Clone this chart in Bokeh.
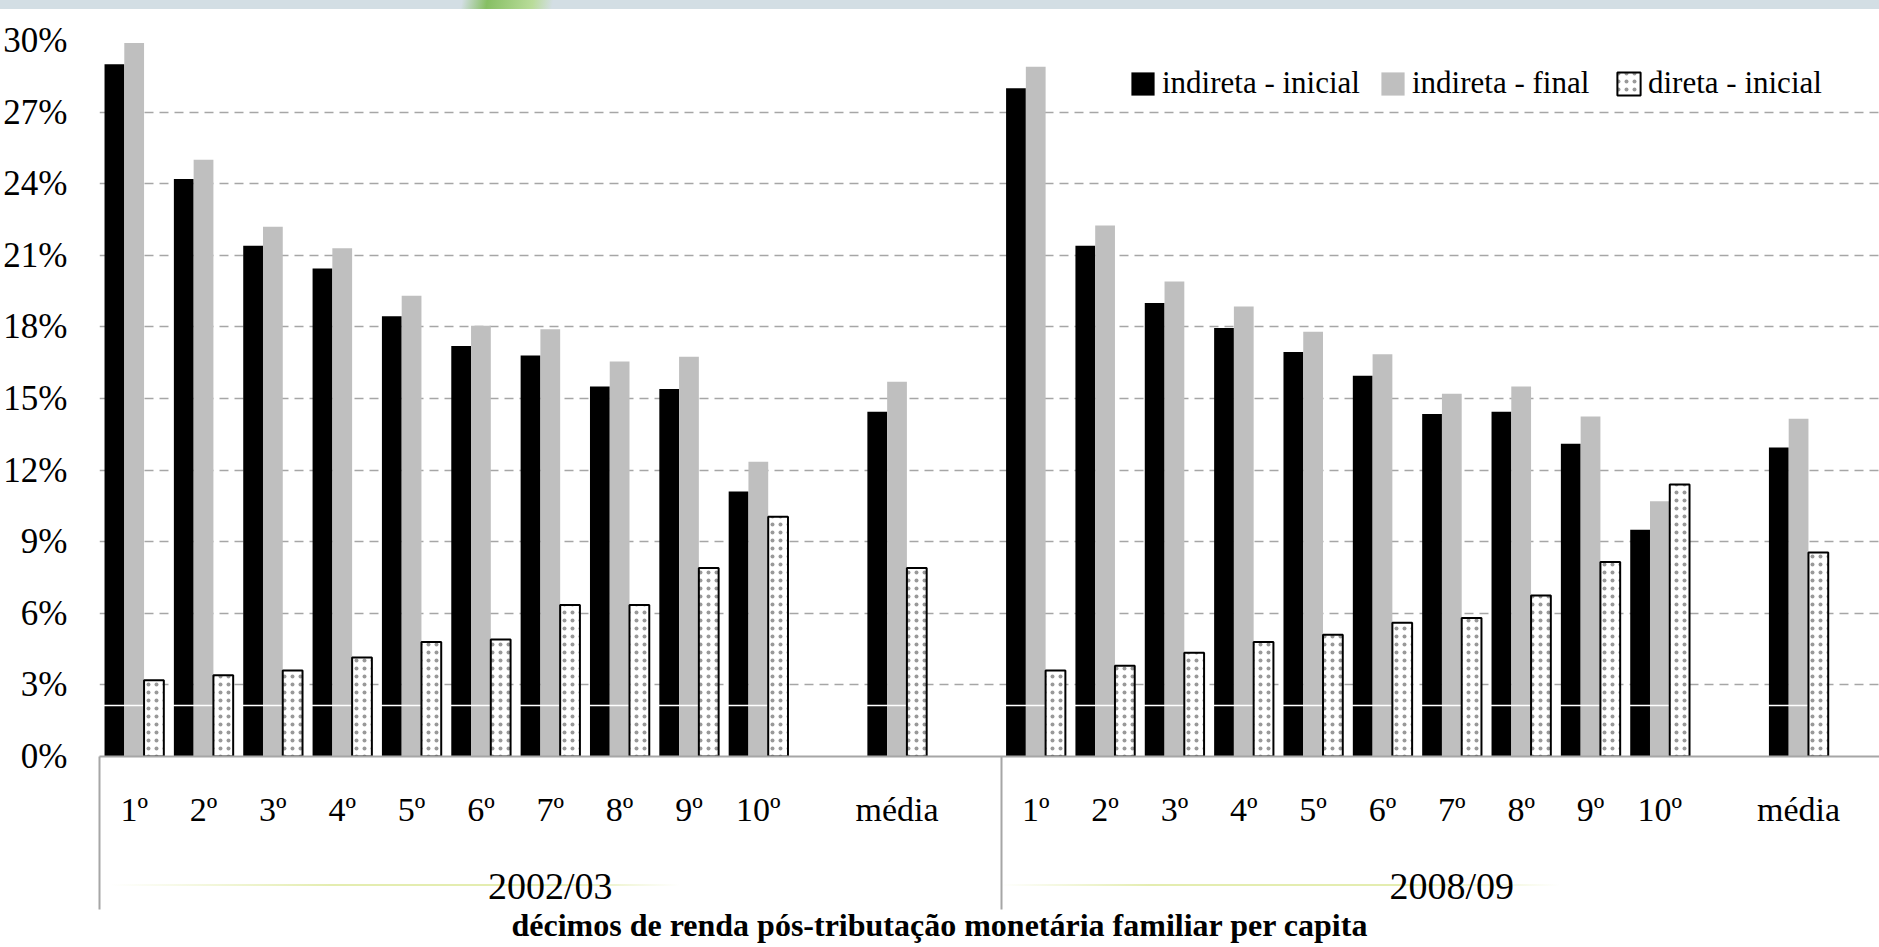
from bokeh.plotting import figure
from bokeh.models import (ColumnDataSource, Range1d, LinearAxis, FixedTicker,
                          PrintfTickFormatter, Legend, LegendItem)
from bokeh.transform import dodge
from bokeh.embed import file_html
from bokeh.resources import INLINE

# ---------------- data (percent) ----------------
periods = ["2002/03", "2008/09"]
categories = ["1º", "2º", "3º", "4º", "5º", "6º", "7º", "8º", "9º", "10º", "média"]
# slot of each category inside its period block (one empty slot before "média")
category_slots = [0, 1, 2, 3, 4, 5, 6, 7, 8, 9, 11]
slots_per_period = 13

indireta_inicial_0203 = [29.0, 24.2, 21.4, 20.45, 18.45, 17.2, 16.8, 15.5, 15.4, 11.1, 14.45]
indireta_final_0203 = [29.9, 25.0, 22.2, 21.3, 19.3, 18.05, 17.9, 16.55, 16.75, 12.35, 15.7]
direta_inicial_0203 = [3.2, 3.4, 3.6, 4.15, 4.8, 4.9, 6.35, 6.35, 7.9, 10.05, 7.9]

indireta_inicial_0809 = [28.0, 21.4, 19.0, 17.95, 16.95, 15.95, 14.35, 14.45, 13.1, 9.5, 12.95]
indireta_final_0809 = [28.9, 22.25, 19.9, 18.85, 17.8, 16.85, 15.2, 15.5, 14.25, 10.7, 14.15]
direta_inicial_0809 = [3.6, 3.8, 4.35, 4.8, 5.1, 5.6, 5.8, 6.75, 8.15, 11.4, 8.55]

y_ticks = [0, 3, 6, 9, 12, 15, 18, 21, 24, 27, 30]
series_labels = ["indireta - inicial", "indireta - final", "direta - inicial"]
x_title = "décimos de renda pós-tributação monetária familiar per capita"

# ---------------- table for the library ----------------
ind_ini = [indireta_inicial_0203, indireta_inicial_0809]
ind_fin = [indireta_final_0203, indireta_final_0809]
dir_ini = [direta_inicial_0203, direta_inicial_0809]

xs, labels, a_vals, b_vals, c_vals = [], [], [], [], []
for pi, per in enumerate(periods):
    for k, cat in enumerate(categories):
        xs.append(pi * slots_per_period + category_slots[k] + 0.5)
        labels.append(cat)
        a_vals.append(ind_ini[pi][k])
        b_vals.append(ind_fin[pi][k])
        c_vals.append(dir_ini[pi][k])

src = ColumnDataSource(dict(x=xs, label=labels, a=a_vals, b=b_vals, c=c_vals))

# ---------------- layout ----------------
FONT = "Liberation Serif"
W, H = 1879, 947
LEFT, TOP, BOTTOM = 99, 40, 191
frame_w = W - LEFT
slot_px = 69.35
x_end = frame_w / slot_px

p = figure(width=W, height=H, output_backend="svg", toolbar_location=None,
           x_range=Range1d(0, x_end), y_range=Range1d(0, 30),
           min_border_left=LEFT, min_border_right=0, min_border_top=TOP,
           min_border_bottom=BOTTOM)
p.outline_line_color = None
p.background_fill_color = "white"
p.border_fill_alpha = 0
# slide decorations seen in the original picture (page background)
p.styles = {
    "background": (
        "linear-gradient(100deg, rgba(255,255,255,0) 455px, #86BF63 480px, "
        "#B9DC9A 525px, rgba(255,255,255,0) 545px) 0 0 / 100% 9px no-repeat, "
        "linear-gradient(#D3DEE4, #D3DEE4) 0 0 / 100% 9px no-repeat, "
        "linear-gradient(to right, rgba(255,255,255,0) 110px, #E4EDB0 330px, "
        "#E4EDB0 560px, rgba(255,255,255,0) 680px) 0 884px / 100% 2px no-repeat, "
        "linear-gradient(to right, rgba(255,255,255,0) 1000px, #E4EDB0 1150px, "
        "#E4EDB0 1420px, rgba(255,255,255,0) 1560px) 0 884px / 100% 2px no-repeat, "
        "white"
    )
}

# y axis
ya = p.yaxis[0]
ya.ticker = FixedTicker(ticks=y_ticks)
ya.formatter = PrintfTickFormatter(format="%d%%")
ya.axis_line_color = None
ya.major_tick_line_color = None
ya.minor_tick_line_color = None
ya.major_label_standoff = 26
ya.major_label_text_font = FONT
ya.major_label_text_font_size = "35px"
ya.major_label_text_color = "black"

p.ygrid.ticker = FixedTicker(ticks=y_ticks)
p.ygrid.grid_line_color = "#A6A6A6"
p.ygrid.grid_line_dash = "9 6"
p.ygrid.grid_line_width = 1.3
p.xgrid.grid_line_color = None

# x axis 1: category labels
bw = 0.285
xa = p.xaxis[0]
xa.ticker = FixedTicker(ticks=xs)
xa.major_label_overrides = {x: l for x, l in zip(xs, labels)}
xa.axis_line_color = "#A6A6A6"
xa.axis_line_width = 2
xa.major_tick_line_color = None
xa.minor_tick_line_color = None
xa.major_label_standoff = 28
xa.major_label_text_font = FONT
xa.major_label_text_font_size = "34px"
xa.major_label_text_color = "black"

# x axis 2: period labels
group_centers = [pi * slots_per_period + slots_per_period / 2 for pi in range(len(periods))]
ga = LinearAxis(ticker=FixedTicker(ticks=group_centers),
                major_label_overrides={c: per for c, per in zip(group_centers, periods)})
ga.axis_line_color = None
ga.major_tick_line_color = None
ga.minor_tick_line_color = None
ga.major_label_standoff = 28
ga.major_label_text_font = FONT
ga.major_label_text_font_size = "38px"
ga.major_label_text_color = "black"
p.add_layout(ga, "below")

# x axis 3: axis title, with period separators drawn as long inward minor ticks
title_x = (W / 2 - LEFT) / slot_px
ta = LinearAxis(ticker=FixedTicker(ticks=[title_x],
                                   minor_ticks=[pi * slots_per_period for pi in range(len(periods) + 1)]),
                major_label_overrides={title_x: x_title})
ta.axis_line_color = None
ta.major_tick_line_color = None
ta.major_label_standoff = -9
ta.major_label_text_font = FONT
ta.major_label_text_font_size = "32px"
ta.major_label_text_font_style = "bold"
ta.major_label_text_color = "black"
ta.minor_tick_out = 0
ta.minor_tick_in = 153
ta.minor_tick_line_color = "#A6A6A6"
ta.minor_tick_line_width = 2
p.add_layout(ta, "below")

# bars
r1 = p.vbar(x=dodge("x", -bw), top="a", bottom=0, width=bw, source=src,
            fill_color="black", line_color=None)
r2 = p.vbar(x=dodge("x", 0), top="b", bottom=0, width=bw, source=src,
            fill_color="#BFBFBF", line_color=None)
p.hspan(y=[2.12], line_color="white", line_width=1.5)
r3 = p.vbar(x=dodge("x", bw), top="c", bottom=0, width=bw, source=src,
            fill_color="white", line_color="black", line_width=2,
            hatch_pattern="dot", hatch_color="#999999", hatch_scale=8,
            hatch_weight=1)

# legends (one per series, placed like the original)
legend_x = [1029, 1279, 1515]
for r, lab, lx in zip([r1, r2, r3], series_labels, legend_x):
    lg = Legend(items=[LegendItem(label=lab, renderers=[r])],
                location=(lx, 655), orientation="horizontal",
                glyph_width=29, glyph_height=29, label_standoff=5,
                padding=0, margin=0, border_line_color=None,
                background_fill_alpha=0,
                label_text_font=FONT, label_text_font_size="31px",
                label_text_color="black")
    p.add_layout(lg)

open("out.html", "w").write(file_html(p, INLINE))
